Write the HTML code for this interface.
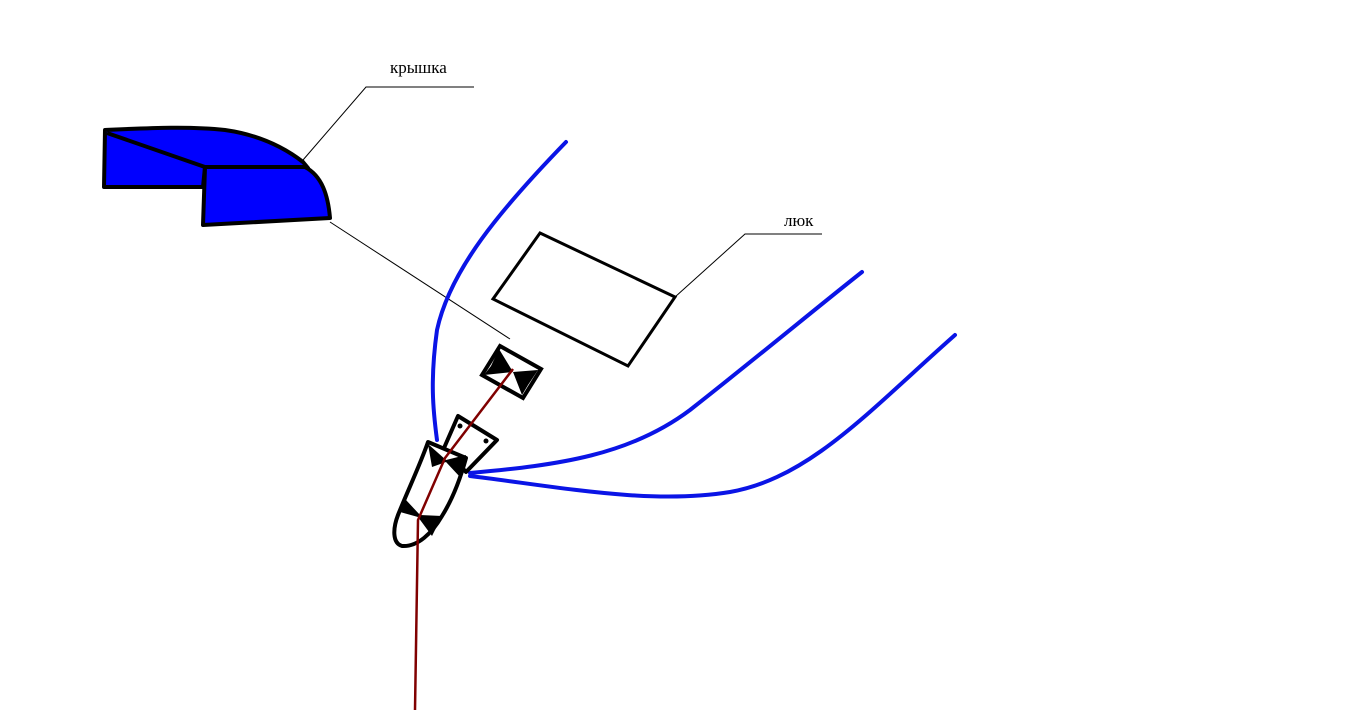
<!DOCTYPE html>
<html><head><meta charset="utf-8"><style>
html,body{margin:0;padding:0;background:#fff;width:1366px;height:716px;overflow:hidden}
svg{display:block}
text{font-family:"Liberation Serif",serif;font-size:17px;fill:#000}
</style></head><body>
<svg width="1366" height="716" viewBox="0 0 1366 716" xmlns="http://www.w3.org/2000/svg">
<path d="M105,130 C150,128 190,126 225,130 C260,135 285,148 303,162 L308,168 L205,167 L203,187 L104,187 Z" fill="#0000ff" stroke="#000" stroke-width="4" stroke-linejoin="round"/>
<path d="M107,133 L205,167" stroke="#000" stroke-width="4"/>
<path d="M205,167 L305,167 C322,176 328,195 330,218 L203,225 Z" fill="#0000ff" stroke="#000" stroke-width="4" stroke-linejoin="round"/>
<polyline points="303,160 366,87 474,87" fill="none" stroke="#000" stroke-width="1"/>
<text x="390" y="73">крышка</text>
<line x1="330" y1="222" x2="510" y2="339" stroke="#000" stroke-width="1"/>
<polyline points="675,297 745,234 822,234" fill="none" stroke="#000" stroke-width="1"/>
<text x="784" y="226">люк</text>
<g fill="none" stroke="#0a14e6" stroke-width="4" stroke-linecap="round">
<path d="M566,142 C500,210 450,270 437,330 C430,380 433,410 437,440"/>
<path d="M470,473 C560,465 630,455 690,410 C760,355 820,305 862,272"/>
<path d="M470,476 C560,487 650,505 730,492 C810,478 870,410 955,335"/>
</g>
<polygon points="540,233 675,297 628,366 493,299" fill="none" stroke="#000" stroke-width="3"/>
<polygon points="500,346 541,369 523,398 482,375" fill="#fff" stroke="#000" stroke-width="4"/>
<polygon points="499,349 513,372 484,375 491,366" fill="#000"/>
<polygon points="538,370 513,372 522,395 528,385" fill="#000"/>
<polygon points="458,416 497,440 466,472 444,448" fill="#fff" stroke="#000" stroke-width="4" stroke-linejoin="round"/>
<circle cx="460" cy="426" r="2.5" fill="#000"/><circle cx="486" cy="441" r="2.5" fill="#000"/>
<path d="M428,442 L466,458 C460,480 452,500 442,516 C432,533 418,547 402,546 C392,543 393,528 398,515 C408,490 420,465 428,442 Z" fill="#fff" stroke="#000" stroke-width="4" stroke-linejoin="round"/>
<polygon points="428,444 446,460 466,455 460,477 446,462 432,467" fill="#000"/>
<polygon points="406,500 420,515 442,516 432,536 418,517 400,512" fill="#000"/>
<polyline points="415,710 418,520 445,458 513,369" fill="none" stroke="#800000" stroke-width="2.5"/>
</svg>
</body></html>
